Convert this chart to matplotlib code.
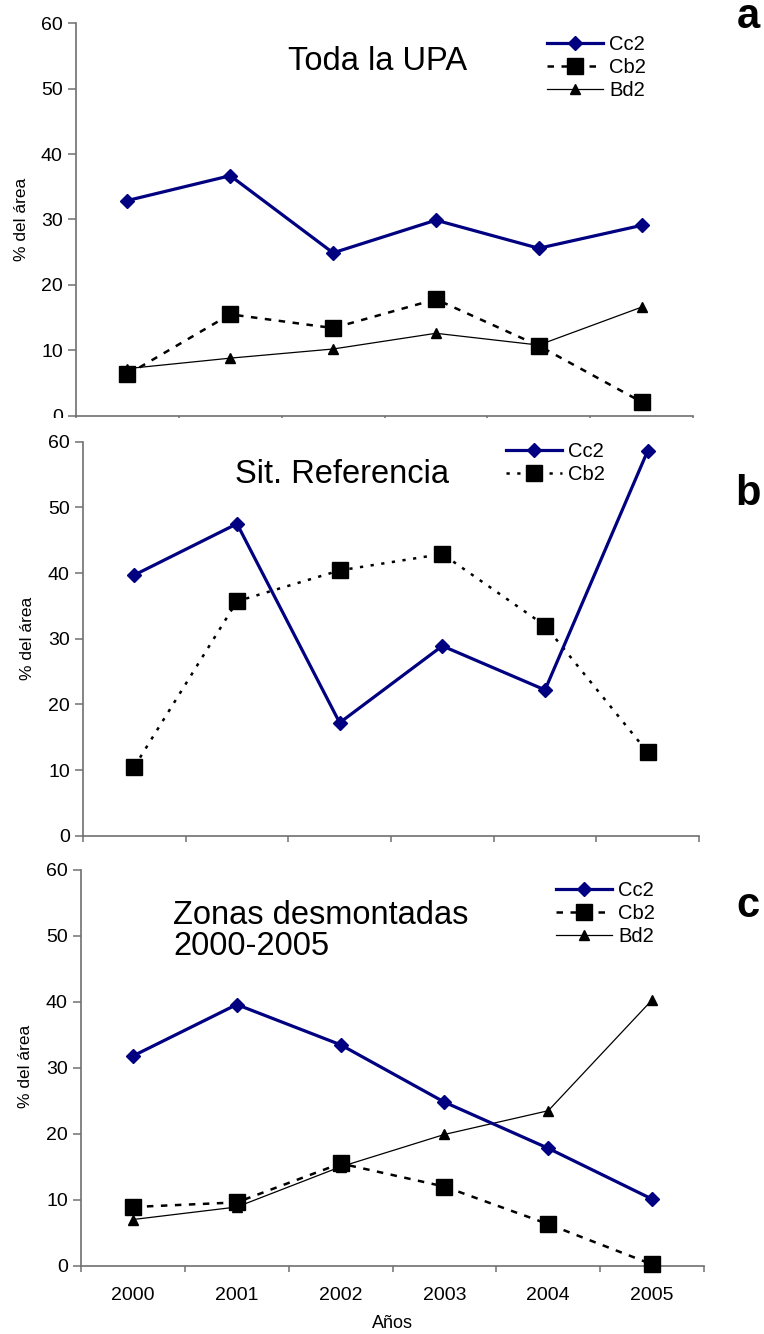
import matplotlib
matplotlib.use("Agg")
import matplotlib.pyplot as plt
from matplotlib.patches import Rectangle

plt.rcParams['font.family'] = ['Liberation Sans', 'DejaVu Sans']

years = ['2000', '2001', '2002', '2003', '2004', '2005']
a_cc2 = [32.9, 36.7, 24.9, 29.9, 25.6, 29.1]
a_cb2 = [6.3, 15.5, 13.4, 17.8, 10.7, 2.1]
a_bd2 = [7.2, 8.8, 10.2, 12.6, 10.8, 16.6]
b_cc2 = [39.7, 47.5, 17.2, 28.9, 22.2, 58.6]
b_cb2 = [10.5, 35.7, 40.4, 42.9, 32.0, 12.7]
c_cc2 = [31.8, 39.6, 33.5, 24.8, 17.8, 10.1]
c_cb2 = [8.9, 9.6, 15.5, 12.0, 6.3, 0.2]
c_bd2 = [7.0, 8.9, 15.0, 19.9, 23.5, 40.3]
yticks = [0, 10, 20, 30, 40, 50, 60]
titles = ['Toda la UPA', 'Sit. Referencia', 'Zonas desmontadas\n2000-2005']
letters = ['a', 'b', 'c']

W, H = 764, 1334
fig = plt.figure(figsize=(W / 100, H / 100), dpi=100)


def rect(l, r, t, b):
    return [l / W, 1 - b / H, (r - l) / W, (b - t) / H]


def px(x, y):
    return x / W, 1 - y / H


NAVY = '#000080'
GREY = '#707070'
xs = [i + 0.5 for i in range(len(years))]

axes_px = [(76, 693, 23.3, 415.7), (83, 699, 441.7, 835.7), (81, 704, 870, 1265.7)]
series = [
    [('Cc2', a_cc2), ('Cb2', a_cb2), ('Bd2', a_bd2)],
    [('Cc2', b_cc2), ('Cb2', b_cb2)],
    [('Cc2', c_cc2), ('Cb2', c_cb2), ('Bd2', c_bd2)],
]
dash_styles = [(0, (2.6, 3.0)), (0, (1.3, 3.0)), (0, (2.6, 3.0))]
title_pos = [(288, 70), (235, 483), (173, 955)]
letter_pos = [(748, 28), (748, 505), (748, 917)]
ylabel_pos = [(22, 219), (27, 638), (26, 1066)]
legend_pos = [(547, 35), (506, 442), (556, 881)]

for k, (l, r, t, b) in enumerate(axes_px):
    ax = fig.add_axes(rect(l, r, t, b))
    handles = []
    for name, vals in series[k]:
        if name == 'Cc2':
            h, = ax.plot(xs, vals, color=NAVY, lw=2.3, marker='D', ms=7,
                         mec=NAVY, mfc=NAVY, zorder=5, clip_on=False, label=name)
        elif name == 'Cb2':
            h, = ax.plot(xs, vals, color='black', lw=1.8, ls=dash_styles[k],
                         marker='s', ms=11, mec='black', mfc='black',
                         zorder=4, clip_on=False, label=name)
        else:
            h, = ax.plot(xs, vals, color='black', lw=0.9, marker='^', ms=6.5,
                         mec='black', mfc='black', zorder=3, clip_on=False,
                         label=name)
        handles.append(h)
    ax.set_xlim(0, 6)
    ax.set_ylim(0, 60)
    ax.set_yticks(yticks)
    ax.set_xticks(range(0, 7))
    ax.set_xticklabels([])
    for s in ['top', 'right']:
        ax.spines[s].set_visible(False)
    for s in ['left', 'bottom']:
        ax.spines[s].set_color(GREY)
        ax.spines[s].set_linewidth(1.2)
    ax.tick_params(axis='y', direction='out', length=5.5, width=1.1,
                   color=GREY, labelsize=14, pad=4)
    ax.tick_params(axis='x', which='major', direction='out', length=4.5,
                   width=1.1, color=GREY)
    if k == 2:
        ax.set_xticks(xs, minor=True)
        ax.set_xticklabels(years, minor=True)
        ax.tick_params(axis='x', which='minor', length=0, labelsize=14,
                       pad=15)
        fig.text(*px(392, 1323), 'Años', ha='center', va='center', fontsize=13)

    fig.text(*px(*ylabel_pos[k]), '% del área', rotation=90, ha='center',
             va='center', fontsize=12.5)
    tx, ty = title_pos[k]
    fig.text(*px(tx, ty), titles[k], ha='left', va='baseline', fontsize=23.5,
             linespacing=1.0)
    lx, ly = letter_pos[k]
    fig.text(*px(lx, ly), letters[k], ha='center', va='baseline',
             fontsize=30, fontweight='bold')
    gx, gy = legend_pos[k]
    leg = ax.legend(handles=handles, loc='upper left',
                    bbox_to_anchor=px(gx, gy), bbox_transform=fig.transFigure,
                    frameon=False, fontsize=14.5, handlelength=2.8,
                    handletextpad=0.3, labelspacing=0.2, borderpad=0,
                    borderaxespad=0, numpoints=1)

# panel a is cut just under its axis line
fig.add_artist(Rectangle(px(0, 434), 1, 16 / H, transform=fig.transFigure,
                         facecolor='white', edgecolor='none', zorder=20))

fig.savefig('out.png', dpi=100)
